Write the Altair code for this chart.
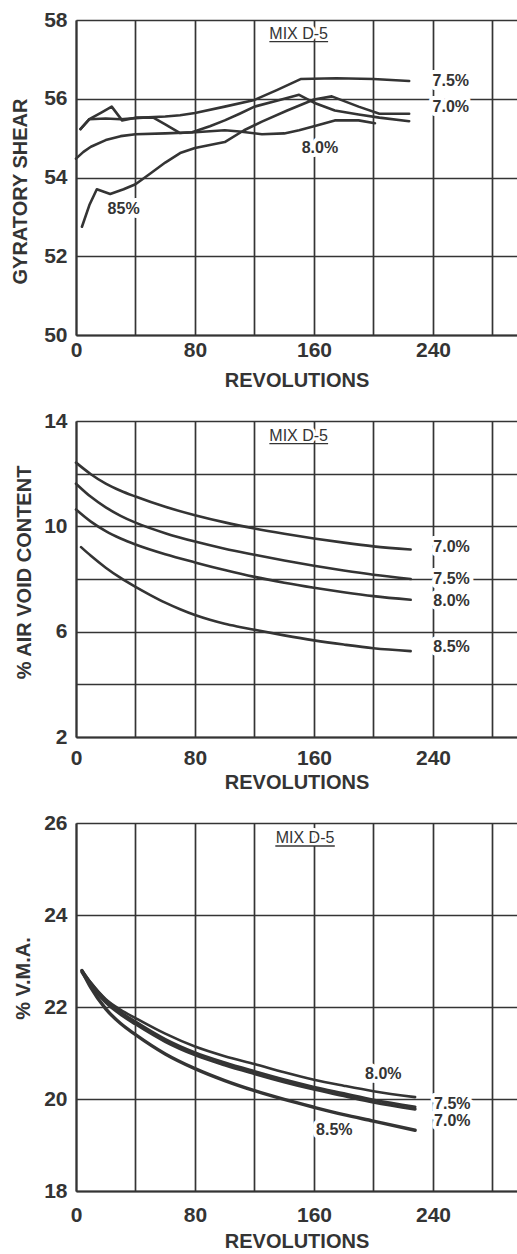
import altair as alt
import pandas as pd

# ---------------- data ----------------
# Panel 1: gyratory shear vs revolutions
shear_a_rev = [3, 9, 20, 30, 45, 60, 70, 80, 100, 120, 135, 151, 175, 200, 224]
shear_a_val = [55.23, 55.48, 55.5, 55.48, 55.52, 55.55, 55.58, 55.64, 55.8, 55.97, 56.22, 56.5, 56.52, 56.5, 56.45]
shear_b_rev = [3, 9, 17, 24, 31, 40, 52, 60, 70, 78, 90, 100, 110, 120, 135, 150, 160, 174, 190, 204, 224]
shear_b_val = [55.23, 55.48, 55.65, 55.8, 55.45, 55.52, 55.52, 55.35, 55.13, 55.15, 55.3, 55.45, 55.62, 55.8, 55.95, 56.1, 55.9, 55.7, 55.6, 55.52, 55.43]
shear_c_rev = [0, 5, 10, 20, 30, 40, 60, 80, 100, 110, 125, 140, 150, 160, 174, 190, 201]
shear_c_val = [54.48, 54.65, 54.78, 54.95, 55.05, 55.1, 55.12, 55.15, 55.2, 55.17, 55.1, 55.12, 55.2, 55.3, 55.45, 55.45, 55.38]
shear_d_rev = [4, 9, 14, 23, 32, 40, 50, 60, 70, 80, 100, 113, 125, 142, 160, 172, 190, 204, 224]
shear_d_val = [52.75, 53.3, 53.7, 53.58, 53.7, 53.83, 54.1, 54.38, 54.62, 54.75, 54.9, 55.2, 55.42, 55.7, 55.98, 56.06, 55.8, 55.62, 55.62]

# Panel 2: % air void content
void_rev = [0, 10, 20, 30, 40, 60, 80, 100, 120, 140, 160, 180, 200, 225]
void_70_val = [12.42, 11.98, 11.62, 11.35, 11.13, 10.74, 10.42, 10.15, 9.92, 9.72, 9.54, 9.38, 9.24, 9.12]
void_75_val = [11.62, 11.12, 10.72, 10.4, 10.14, 9.74, 9.42, 9.15, 8.92, 8.7, 8.5, 8.32, 8.16, 8.0]
void_80_val = [10.64, 10.18, 9.82, 9.54, 9.31, 8.94, 8.63, 8.34, 8.08, 7.86, 7.67, 7.5, 7.35, 7.21]
void_85_rev = [3.4, 10, 20, 30, 40, 50, 60, 70, 80, 90, 100, 110, 120, 140, 160, 180, 200, 225]
void_85_val = [9.21, 8.88, 8.43, 8.04, 7.7, 7.39, 7.1, 6.85, 6.63, 6.45, 6.3, 6.18, 6.07, 5.86, 5.67, 5.51, 5.37, 5.26]

# Panel 3: % V.M.A.
vma_rev = [4, 10, 20, 30, 40, 60, 80, 100, 120, 140, 160, 180, 200, 228]
vma_80_val = [22.79, 22.53, 22.17, 21.94, 21.76, 21.42, 21.14, 20.93, 20.76, 20.58, 20.42, 20.29, 20.17, 20.04]
vma_75_val = [22.8, 22.52, 22.15, 21.89, 21.68, 21.3, 21.01, 20.79, 20.6, 20.42, 20.26, 20.12, 19.98, 19.83]
vma_70_val = [22.76, 22.47, 22.1, 21.84, 21.63, 21.25, 20.96, 20.74, 20.55, 20.37, 20.21, 20.07, 19.93, 19.78]
vma_85_val = [22.79, 22.42, 21.96, 21.64, 21.4, 20.98, 20.66, 20.4, 20.18, 19.99, 19.82, 19.66, 19.52, 19.32]

# curve labels
shear_lab_text = ["7.5%", "7.0%", "8.0%", "85%"]
shear_lab_rev = [252, 252, 164, 32]
shear_lab_val = [56.44, 55.79, 54.76, 53.19]
void_lab_text = ["7.0%", "7.5%", "8.0%", "8.5%"]
void_lab_rev = [252.5, 252.5, 252.5, 252.5]
void_lab_val = [9.22, 8.0, 7.15, 5.43]
vma_lab_text = ["8.0%", "7.5%", "7.0%", "8.5%"]
vma_lab_rev = [206.6, 253, 253, 173.7]
vma_lab_val = [20.54, 19.89, 19.53, 19.33]

mix_text = "MIX D-5"
mix_rev = [149.7, 149.7, 154]
mix_val = [57.65, 13.43, 25.68]
mix_ul_rev = [130, 130, 134]
mix_ul_rev2 = [169.5, 169.5, 174]
mix_ul_val = [57.45, 13.14, 25.5]

x_grid = [0, 40, 80, 120, 160, 200, 240, 280]
x_max = 296.5

# ---------------- styling ----------------
INK = "#343434"
FONT = "Liberation Sans, Arial, Helvetica, sans-serif"
W = 441


def series_frame(parts):
    rows = []
    for name, xs, ys in parts:
        for xv, yv in zip(xs, ys):
            rows.append({"series": name, "rev": xv, "val": yv})
    return pd.DataFrame(rows)


def label_frame(texts, xs, ys):
    return pd.DataFrame({"label": texts, "rev": xs, "val": ys})


def panel(lines_df, labels_df, idx, ydom, yvals, ylabexpr, ytitle, ytitle_x,
          ytitle_y, height, interp, lab_pad, xtitle_y, widths):
    x = alt.X(
        "rev:Q",
        scale=alt.Scale(domain=[0, x_max], nice=False, zero=False),
        axis=alt.Axis(
            values=x_grid, labelExpr="datum.value % 80 === 0 ? datum.label : ''",
            title="REVOLUTIONS", grid=True, gridColor=INK, gridWidth=1.7,
            domainColor=INK, domainWidth=2, ticks=False, tickSize=0,
            labelPadding=lab_pad, labelBaseline="middle", labelFlush=False,
            labelOverlap=False, labelFont=FONT, labelFontSize=21,
            labelFontWeight="bold", labelColor=INK,
            titleFont=FONT, titleFontSize=20, titleFontWeight="bold",
            titleColor=INK, titleY=xtitle_y, titleBaseline="middle",
        ),
    )
    y = alt.Y(
        "val:Q",
        scale=alt.Scale(domain=ydom, nice=False, zero=False),
        axis=alt.Axis(
            values=yvals, labelExpr=ylabexpr, title=ytitle, grid=True,
            gridColor=INK, gridWidth=1.7, domainColor=INK, domainWidth=2,
            ticks=False, tickSize=0, labelPadding=9, labelOverlap=False,
            labelFont=FONT, labelFontSize=21, labelFontWeight="bold",
            labelColor=INK, titleFont=FONT, titleFontSize=20,
            titleFontWeight="bold", titleColor=INK, titleAngle=270,
            titleX=ytitle_x, titleY=ytitle_y, titleBaseline="middle",
        ),
    )
    mix_df = pd.DataFrame({"label": [mix_text], "rev": [mix_rev[idx]], "val": [mix_val[idx]]})
    ul_df = pd.DataFrame({"rev": [mix_ul_rev[idx]], "rev2": [mix_ul_rev2[idx]], "val": [mix_ul_val[idx]]})

    halo = alt.Chart(labels_df).mark_text(
        font=FONT, fontSize=16, fontWeight="bold", fill="white",
        stroke="white", strokeWidth=8, strokeJoin="round",
    ).encode(x=x, y=y, text="label:N")
    mix_halo = alt.Chart(mix_df).mark_text(
        font=FONT, fontSize=16, fill="white", stroke="white", strokeWidth=6,
        strokeJoin="round",
    ).encode(x=x, y=y, text="label:N")
    names = list(dict.fromkeys(lines_df["series"]))
    lines = alt.Chart(lines_df).mark_line(
        color=INK, interpolate=interp, strokeCap="round", strokeJoin="round"
    ).encode(
        x=x, y=y, detail="series:N",
        strokeWidth=alt.StrokeWidth("series:N", scale=alt.Scale(domain=names, range=widths), legend=None),
    )
    ul = alt.Chart(ul_df).mark_rule(color=INK, strokeWidth=1.4).encode(x=x, x2="rev2:Q", y=y)
    labels = alt.Chart(labels_df).mark_text(
        font=FONT, fontSize=16, fontWeight="bold", color=INK
    ).encode(x=x, y=y, text="label:N")
    mix = alt.Chart(mix_df).mark_text(font=FONT, fontSize=16, color=INK).encode(x=x, y=y, text="label:N")
    return alt.layer(halo, mix_halo, lines, ul, labels, mix).properties(width=W, height=height)


p1 = panel(
    series_frame([("A", shear_a_rev, shear_a_val), ("B", shear_b_rev, shear_b_val),
                  ("C", shear_c_rev, shear_c_val), ("D", shear_d_rev, shear_d_val)]),
    label_frame(shear_lab_text, shear_lab_rev, shear_lab_val), 0,
    [50, 58], [50, 52, 54, 56, 58], "datum.label", "GYRATORY SHEAR",
    -56, 171, 315, "linear", 15, 45, [2.6, 2.6, 2.6, 2.6],
)
p2 = panel(
    series_frame([("7.0%", void_rev, void_70_val), ("7.5%", void_rev, void_75_val),
                  ("8.0%", void_rev, void_80_val), ("8.5%", void_85_rev, void_85_val)]),
    label_frame(void_lab_text, void_lab_rev, void_lab_val), 1,
    [2, 14], [2, 4, 6, 8, 10, 12, 14],
    "(datum.value - 2) % 4 === 0 ? datum.label : ''", "% AIR VOID CONTENT",
    -52, 151, 316, "monotone", 21, 45, [2.6, 2.6, 2.6, 2.6],
)
p3 = panel(
    series_frame([("8.0%", vma_rev, vma_80_val), ("7.5%", vma_rev, vma_75_val),
                  ("7.0%", vma_rev, vma_70_val), ("8.5%", vma_rev, vma_85_val)]),
    label_frame(vma_lab_text, vma_lab_rev, vma_lab_val), 2,
    [18, 26], [18, 20, 22, 24, 26], "datum.label", "% V.M.A.",
    -53, 155, 368, "monotone", 24, 50, [2.6, 3.4, 3.4, 2.4],
)

chart = alt.vconcat(p1, p2, p3, spacing=86, bounds="flush").resolve_scale(
    x="independent", y="independent", strokeWidth="independent"
).properties(
    padding={"left": 10, "top": 9, "right": 0, "bottom": 0},
    background="white",
).configure_view(strokeWidth=0)

chart.save("out.html", embed_options={"renderer": "svg", "actions": False})
